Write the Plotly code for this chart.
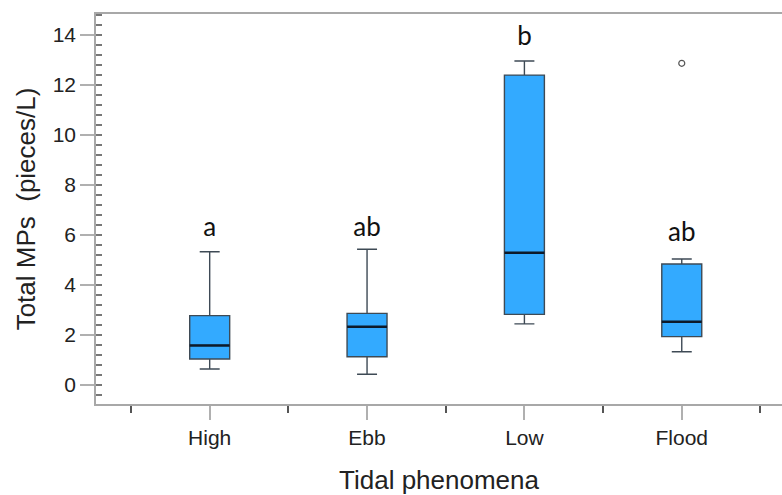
import plotly.graph_objects as go

categories = ["High", "Ebb", "Low", "Flood"]
lower_whisker = [0.64, 0.43, 2.44, 1.33]
q1 = [1.04, 1.13, 2.82, 1.93]
median = [1.58, 2.33, 5.28, 2.53]
q3 = [2.77, 2.86, 12.38, 4.83]
upper_whisker = [5.32, 5.42, 12.94, 5.03]
outlier_cat = [3]
outlier_val = [12.85]
letters = ["a", "ab", "b", "ab"]
letter_y = [6.2, 6.2, 13.86, 6.0]

xpos = list(range(len(categories)))
box_w = 0.254

fig = go.Figure()
fig.add_trace(go.Box(
    x=xpos, q1=q1, median=median, q3=q3,
    lowerfence=lower_whisker, upperfence=upper_whisker,
    width=box_w, whiskerwidth=0.5,
    fillcolor="#33aaff", line=dict(color="#3e4a55", width=1.4),
    boxpoints=False, showlegend=False, hoverinfo="skip",
))
# darker, thicker median lines
for xi, m in zip(xpos, median):
    fig.add_trace(go.Scatter(
        x=[xi - box_w / 2, xi + box_w / 2], y=[m, m], mode="lines",
        line=dict(color="#0d1a2a", width=2.5), showlegend=False, hoverinfo="skip",
    ))
fig.add_trace(go.Scatter(
    x=outlier_cat, y=outlier_val, mode="markers",
    marker=dict(symbol="circle-open", size=6, color="#555555", line=dict(width=1.2)),
    showlegend=False, hoverinfo="skip",
))
fig.add_trace(go.Scatter(
    x=xpos, y=letter_y, mode="text", text=letters,
    textfont=dict(family="Lato", size=26, color="#111111"),
    showlegend=False, hoverinfo="skip",
))

fig.update_layout(
    width=782, height=495,
    margin=dict(l=96, r=0, t=14, b=91),
    paper_bgcolor="white", plot_bgcolor="white",
    font=dict(family="Liberation Sans, Arial", color="#222222"),
)
fig.update_xaxes(
    range=[-0.7225, 3.637],
    tickmode="array", tickvals=xpos, ticktext=categories,
    tickfont=dict(size=21, color="#222222"),
    ticks="outside", ticklen=14, tickcolor="#b0b0b0", tickwidth=1.5,
    showline=True, linecolor="#a8a8a8", linewidth=1.5, mirror=True,
    showgrid=False, zeroline=False,
    minor=dict(tickmode="array", tickvals=[-0.5, 0.5, 1.5, 2.5, 3.5],
               ticks="outside", ticklen=7, tickcolor="#555555", tickwidth=1.5, showgrid=False),
    title=dict(text="Tidal phenomena", font=dict(size=26, color="#222222"), standoff=24),
)
fig.update_yaxes(
    range=[-0.76, 14.82],
    tick0=0, dtick=2,
    tickfont=dict(size=21, color="#222222"),
    ticks="outside", ticklen=14, tickcolor="#b0b0b0", tickwidth=1.5,
    showline=True, linecolor="#a8a8a8", linewidth=1.5,
    showgrid=False, zeroline=False,
    minor=dict(tick0=0, dtick=0.4, ticks="inside", ticklen=6,
               tickcolor="#777777", tickwidth=1.5, showgrid=False),
    title=dict(text="Total MPs  (pieces/L)", font=dict(size=26, color="#222222"), standoff=10),
)

fig.write_html("out.html")
